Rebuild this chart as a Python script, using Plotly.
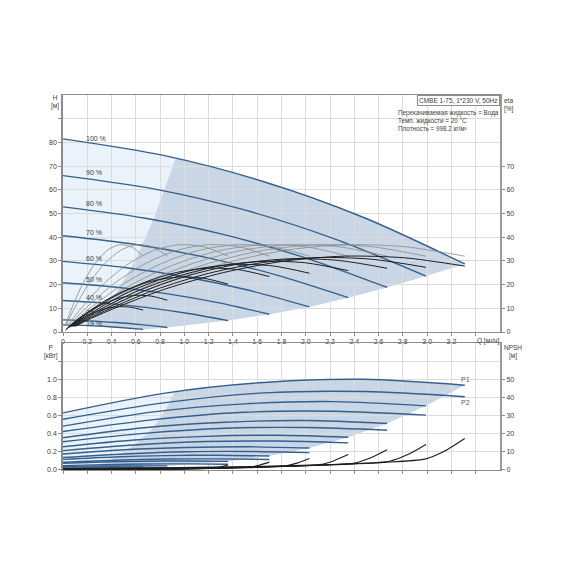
import plotly.graph_objects as go

# ---------------- data ----------------
SPEED_LABELS = ["100 %", "90 %", "80 %", "70 %", "60 %", "50 %", "40 %", "25 %", "19 %"]
Q_END = [3.31, 2.99, 2.67, 2.35, 2.03, 1.70, 1.36, 0.86, 0.66]   # flow at end of each speed curve [m3/h]

# sampling grid along each curve (fraction of that curve's end flow)
FRAC = [0, 0.25, 0.5, 0.75, 1.0]
FRAC_ETA = [0.03, 0.1, 0.25, 0.4, 0.55, 0.7, 0.85, 1.0]
FRAC_NPSH = [0, 0.25, 0.5, 0.7, 0.8, 0.9, 0.95, 1.0]

# head H [m]
H_100 = [81.5, 74.5, 63.4, 48.2, 28.7]
H_90 = [66.0, 60.4, 51.5, 39.2, 23.6]
H_80 = [52.8, 48.1, 41.0, 31.2, 18.8]
H_70 = [40.6, 37.0, 31.5, 24.0, 14.5]
H_60 = [29.8, 27.2, 23.2, 17.7, 10.6]
H_50 = [20.8, 19.0, 16.2, 12.4, 7.5]
H_40 = [13.3, 12.2, 10.4, 7.9, 4.8]
H_25 = [5.1, 4.7, 4.0, 3.1, 1.9]
H_19 = [3.0, 2.8, 2.4, 1.8, 1.1]

# pump efficiency (grey), identical shape for every speed [%]
ETA_PUMP = [2.8, 9.2, 20.6, 28.9, 34.4, 36.8, 36.0, 32.0]
# total efficiency (black) [%]
ETA_100 = [2.4, 8.0, 17.9, 25.1, 29.9, 32.0, 31.3, 27.8]
ETA_90 = [2.4, 7.8, 17.6, 24.7, 29.3, 31.4, 30.7, 27.3]
ETA_80 = [2.4, 7.7, 17.3, 24.3, 28.9, 30.9, 30.2, 26.9]
ETA_70 = [2.3, 7.5, 16.7, 23.4, 27.9, 29.8, 29.2, 25.9]
ETA_60 = [2.2, 7.1, 16.0, 22.4, 26.7, 28.5, 27.9, 24.8]
ETA_50 = [2.0, 6.7, 15.0, 21.1, 25.1, 26.9, 26.3, 23.4]
ETA_40 = [1.8, 5.8, 13.0, 18.2, 21.7, 23.2, 22.7, 20.2]
ETA_25 = [1.2, 3.9, 8.7, 12.1, 14.4, 15.5, 15.1, 13.4]
ETA_19 = [0.8, 2.7, 6.0, 8.4, 10.0, 10.7, 10.4, 9.3]

# input power P1 [kW]
P1_100 = [0.63, 0.845, 0.965, 1.0, 0.935]
P1_90 = [0.484, 0.641, 0.729, 0.754, 0.707]
P1_80 = [0.356, 0.466, 0.527, 0.545, 0.512]
P1_70 = [0.256, 0.330, 0.371, 0.383, 0.361]
P1_60 = [0.176, 0.223, 0.248, 0.256, 0.242]
P1_50 = [0.117, 0.144, 0.159, 0.163, 0.155]
P1_40 = [0.075, 0.089, 0.097, 0.099, 0.095]
P1_25 = [0.040, 0.043, 0.045, 0.046, 0.045]
P1_19 = [0.032, 0.034, 0.035, 0.035, 0.034]
# shaft power P2 [kW]
P2_100 = [0.56, 0.74, 0.85, 0.865, 0.808]
P2_90 = [0.424, 0.555, 0.636, 0.647, 0.605]
P2_80 = [0.312, 0.404, 0.460, 0.468, 0.439]
P2_70 = [0.214, 0.276, 0.314, 0.319, 0.299]
P2_60 = [0.138, 0.177, 0.201, 0.204, 0.192]
P2_50 = [0.085, 0.108, 0.121, 0.123, 0.116]
P2_40 = [0.048, 0.059, 0.066, 0.067, 0.064]
P2_25 = [0.019, 0.022, 0.023, 0.024, 0.023]
P2_19 = [0.013, 0.014, 0.015, 0.015, 0.015]

# NPSH [m]
NPSH_100 = [0.8, 1.2, 2.0, 3.2, 4.2, 6.0, 10.5, 17.4]
NPSH_90 = [0.65, 0.97, 1.62, 2.59, 3.40, 4.86, 8.5, 14.1]
NPSH_80 = [0.51, 0.77, 1.28, 2.05, 2.69, 3.84, 6.72, 11.1]
NPSH_70 = [0.39, 0.59, 0.98, 1.57, 2.06, 2.94, 5.15, 8.5]
NPSH_60 = [0.29, 0.43, 0.72, 1.15, 1.51, 2.16, 3.78, 6.3]
NPSH_50 = [0.20, 0.30, 0.50, 0.80, 1.05, 1.50, 2.63, 4.35]
NPSH_40 = [0.13, 0.19, 0.32, 0.51, 0.67, 0.96, 1.68, 2.8]
NPSH_25 = [0.05, 0.08, 0.13, 0.20, 0.26, 0.38, 0.66, 1.1]
NPSH_19 = [0.03, 0.04, 0.07, 0.12, 0.15, 0.22, 0.38, 0.63]

# border between the light and the darker shaded areas
SPLIT_Q = [0.18, 0.30, 0.45, 0.60, 0.75, 0.93]
SPLIT_H = [2.8, 7.7, 17.3, 30.8, 48.2, 73.5]
SPLIT_PQ = [0.18, 0.24, 0.37, 0.47, 0.56, 0.65, 0.75, 0.84, 0.92]
SPLIT_P = [0.034, 0.045, 0.095, 0.17, 0.25, 0.35, 0.48, 0.66, 0.86]

Q_TICKS = [0, 0.2, 0.4, 0.6, 0.8, 1.0, 1.2, 1.4, 1.6, 1.8, 2.0, 2.2, 2.4, 2.6, 2.8, 3.0, 3.2, 3.4]
H_TICKS = [0, 10, 20, 30, 40, 50, 60, 70, 80, 90]
ETA_TICKS = [0, 10, 20, 30, 40, 50, 60, 70]
P_TICKS = [0, 0.2, 0.4, 0.6, 0.8, 1.0, 1.2]
NPSH_TICKS = [0, 10, 20, 30, 40, 50]

H_CURVES = [H_100, H_90, H_80, H_70, H_60, H_50, H_40, H_25, H_19]
ETA_CURVES = [ETA_100, ETA_90, ETA_80, ETA_70, ETA_60, ETA_50, ETA_40, ETA_25, ETA_19]
P1_CURVES = [P1_100, P1_90, P1_80, P1_70, P1_60, P1_50, P1_40, P1_25, P1_19]
P2_CURVES = [P2_100, P2_90, P2_80, P2_70, P2_60, P2_50, P2_40, P2_25, P2_19]
NPSH_CURVES = [NPSH_100, NPSH_90, NPSH_80, NPSH_70, NPSH_60, NPSH_50, NPSH_40, NPSH_25, NPSH_19]

# ---------------- styles ----------------
FONT = "Liberation Sans, Arial, sans-serif"
BLUE = "#355f8d"
GREY = "#8a8a8a"
BLACK = "#1e1e1e"
LIGHT_FILL = "#eaf3fb"
DARK_FILL = "#c8d6e6"
GRID = "#dcdcdc"
AXIS = "#8c8c8c"
TXT = "#404040"
LABEL_YSHIFT = [0, 3, 3, 3, 3, 3, 3, 7, 1]   # pixel offsets of the speed labels


def grid_q(frac, qe):
    return [f * qe for f in frac]


def path(points):
    return "M " + " L ".join(f"{x},{y}" for x, y in points) + " Z"


fig = go.Figure()

# ---------- shaded operating areas (drawn below the grid) ----------
q100 = grid_q(FRAC, Q_END[0])
q19 = grid_q(FRAC, Q_END[-1])

light_top = [(0, H_19[0]), (0, H_100[0]), (q100[1], H_100[1])]
light_top += list(zip(SPLIT_Q, SPLIT_H))[::-1]
light_top += [(q19[1], H_19[1])]

dark_top = list(zip(SPLIT_Q, SPLIT_H))
dark_top += [(q, h) for q, h in zip(q100, H_100) if q > SPLIT_Q[-1]]
dark_top += [(qe, h[-1]) for qe, h in zip(Q_END[1:], H_CURVES[1:])]
dark_top += [(q, h) for q, h in list(zip(q19, H_19))[::-1] if SPLIT_Q[0] < q < Q_END[-1]]

light_bot = [(0, P1_19[0]), (0, P1_100[0]), (q100[1], P1_100[1])]
light_bot += list(zip(SPLIT_PQ, SPLIT_P))[::-1]
light_bot += [(q19[1], P1_19[1])]

dark_bot = list(zip(SPLIT_PQ, SPLIT_P))
dark_bot += [(q, p) for q, p in zip(q100, P1_100) if q > SPLIT_PQ[-1]]
dark_bot += [(qe, p[-1]) for qe, p in zip(Q_END[1:], P1_CURVES[1:])]
dark_bot += [(q, p) for q, p in list(zip(q19, P1_19))[::-1] if SPLIT_PQ[0] < q < Q_END[-1]]

shapes = []
for pts, col, xr, yr in [(light_top, LIGHT_FILL, "x", "y"), (dark_top, DARK_FILL, "x", "y"),
                         (light_bot, LIGHT_FILL, "x2", "y3"), (dark_bot, DARK_FILL, "x2", "y3")]:
    shapes.append(dict(type="path", path=path(pts), xref=xr, yref=yr, fillcolor=col,
                       line=dict(width=0), layer="below"))

# ---------- upper panel ----------
for h, qe in zip(H_CURVES, Q_END):
    fig.add_trace(go.Scatter(x=grid_q(FRAC, qe), y=h, mode="lines", xaxis="x", yaxis="y",
                             line=dict(color=BLUE, width=1.4, shape="spline", smoothing=0.8),
                             hoverinfo="skip"))
for qe in Q_END:
    fig.add_trace(go.Scatter(x=grid_q(FRAC_ETA, qe), y=ETA_PUMP, mode="lines", xaxis="x", yaxis="y2",
                             line=dict(color=GREY, width=0.8, shape="spline", smoothing=0.8),
                             hoverinfo="skip"))
for e, qe in zip(ETA_CURVES, Q_END):
    fig.add_trace(go.Scatter(x=grid_q(FRAC_ETA, qe), y=e, mode="lines", xaxis="x", yaxis="y2",
                             line=dict(color=BLACK, width=1.0, shape="spline", smoothing=0.8),
                             hoverinfo="skip"))

# ---------- lower panel ----------
for p1, p2, qe in zip(P1_CURVES, P2_CURVES, Q_END):
    for p in (p1, p2):
        fig.add_trace(go.Scatter(x=grid_q(FRAC, qe), y=p, mode="lines", xaxis="x2", yaxis="y3",
                                 line=dict(color=BLUE, width=1.4, shape="spline", smoothing=0.8),
                                 hoverinfo="skip"))
for n, qe in zip(NPSH_CURVES, Q_END):
    fig.add_trace(go.Scatter(x=grid_q(FRAC_NPSH, qe), y=n, mode="lines", xaxis="x2", yaxis="y4",
                             line=dict(color=BLACK, width=1.1, shape="spline", smoothing=0.6),
                             hoverinfo="skip"))

# ---------- annotations ----------
ann = []
for lab, h, ys in zip(SPEED_LABELS, H_CURVES, LABEL_YSHIFT):
    ann.append(dict(x=0.175, y=h[0], xref="x", yref="y", text=lab, showarrow=False,
                    xanchor="left", yanchor="middle", yshift=ys,
                    font=dict(family=FONT, size=7, color=TXT)))
ann.append(dict(x=Q_END[0] - 0.05, y=P1_100[-1], xref="x2", yref="y3", text="P1", showarrow=False,
                xanchor="left", yanchor="middle", yshift=6, font=dict(family=FONT, size=7, color=BLUE)))
ann.append(dict(x=Q_END[0] - 0.05, y=P2_100[-1], xref="x2", yref="y3", text="P2", showarrow=False,
                xanchor="left", yanchor="middle", yshift=-6, font=dict(family=FONT, size=7, color=BLUE)))

small = dict(family=FONT, size=6.5, color=TXT)
legend_font = dict(family=FONT, size=6.3, color=TXT)
ann += [
    dict(x=-0.018, y=1.007, xref="paper", yref="paper", text="H<br>[м]", showarrow=False,
         xanchor="center", yanchor="top", align="center", font=small),
    dict(x=1.004, y=1.0, xref="paper", yref="paper", text="eta<br>[%]", showarrow=False,
         xanchor="left", yanchor="top", align="left", font=small),
    dict(x=-0.027, y=0.342, xref="paper", yref="paper", text="P<br>[кВт]", showarrow=False,
         xanchor="center", yanchor="top", align="center", font=small),
    dict(x=1.004, y=0.342, xref="paper", yref="paper", text="NPSH<br>[м]", showarrow=False,
         xanchor="left", yanchor="top", align="center", font=small),
    dict(x=3.5, y=0.368, xref="x", yref="paper", text="Q [м³/ч]", showarrow=False,
         xanchor="center", yanchor="top", yshift=-3, font=small),
    dict(x=1.0, y=1.0, xref="paper", yref="paper", text="CMBE 1-75, 1*230 V, 50Hz", showarrow=False,
         xanchor="right", yanchor="top", bgcolor="white", bordercolor="#8c8c8c", borderwidth=1,
         borderpad=1, font=small),
    dict(x=0.762, y=0.968, xref="paper", yref="paper",
         text="Перекачиваемая жидкость = Вода<br>Темп. жидкости = 20 °C<br>Плотность = 998.2 кг/м³",
         showarrow=False, xanchor="left", yanchor="top", align="left", font=legend_font),
]

tickfont = dict(family=FONT, size=7, color=TXT)
q_text = ["0" if v == 0 else ("" if v > 3.3 else f"{v:.1f}".replace(".", ",")) for v in Q_TICKS]
p_text = [("" if v > 1.1 else f"{v:.1f}") for v in P_TICKS]

common_x = dict(range=[0, 3.6], tickvals=Q_TICKS, showgrid=True, gridcolor=GRID, gridwidth=1,
                showline=True, linecolor=AXIS, linewidth=1, mirror=True, ticks="outside",
                ticklen=3, tickcolor=AXIS, zeroline=False, tickfont=tickfont, fixedrange=True)

# the page body adds an 8 px margin, so the figure is 554 px and the margins are reduced by 8 px
fig.update_layout(
    width=554, height=554,
    margin=dict(l=55, r=62, t=87, b=92),
    paper_bgcolor="white", plot_bgcolor="white",
    showlegend=False,
    font=dict(family=FONT, size=7, color=TXT),
    shapes=shapes,
    annotations=ann,
    xaxis=dict(domain=[0, 1], anchor="y", ticktext=q_text, **common_x),
    yaxis=dict(domain=[0.368, 1], range=[0, 100], tickvals=H_TICKS,
               ticktext=[("" if v > 80 else str(v)) for v in H_TICKS],
               showgrid=True, gridcolor=GRID, showline=True, linecolor=AXIS, linewidth=1.5, mirror=True,
               ticks="outside", ticklen=3, tickcolor=AXIS, zeroline=False, tickfont=tickfont),
    yaxis2=dict(overlaying="y", side="right", anchor="x", range=[0, 100], tickvals=ETA_TICKS,
                showgrid=False, showline=True, linecolor="#9a9a9a", linewidth=2, ticks="outside",
                ticklen=3, tickcolor=AXIS, zeroline=False, tickfont=tickfont),
    xaxis2=dict(domain=[0, 1], anchor="y3", showticklabels=False, **common_x),
    yaxis3=dict(domain=[0, 0.3387], range=[0, 1.4], tickvals=P_TICKS, ticktext=p_text,
                showgrid=True, gridcolor=GRID, showline=True, linecolor=AXIS, linewidth=1.5, mirror=True,
                ticks="outside", ticklen=3, tickcolor=AXIS, zeroline=False, tickfont=tickfont),
    yaxis4=dict(overlaying="y3", side="right", anchor="x2", range=[0, 70], tickvals=NPSH_TICKS,
                showgrid=False, showline=True, linecolor="#9a9a9a", linewidth=2, ticks="outside",
                ticklen=3, tickcolor=AXIS, zeroline=False, tickfont=tickfont),
)

fig.write_html("out.html")
